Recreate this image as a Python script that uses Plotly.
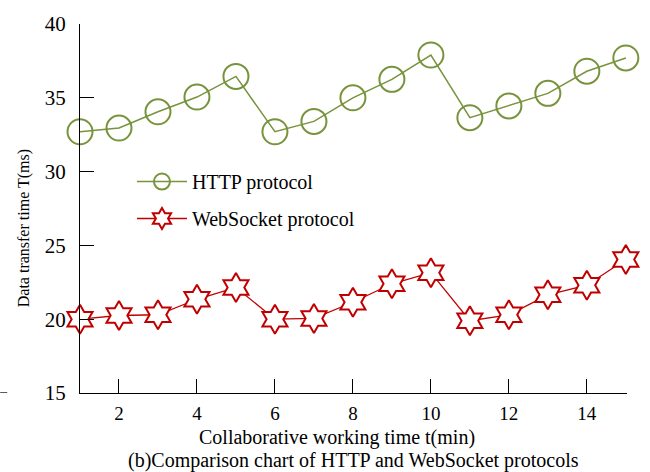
import plotly.graph_objects as go

# Collaborative working time (min)
minutes = list(range(1, 16))

# Data transfer time T (ms) for each protocol
http_ms = [32.7, 32.95, 34.05, 35.05, 36.45, 32.7, 33.4, 35.0, 36.25, 37.9,
           33.65, 34.45, 35.3, 36.8, 37.7]
websocket_ms = [20.0, 20.25, 20.3, 21.35, 22.15, 20.0, 20.05, 21.15, 22.4, 23.15,
                19.9, 20.3, 21.65, 22.3, 24.05]

x_ticks = [2, 4, 6, 8, 10, 12, 14]
y_ticks = [15, 20, 25, 30, 35, 40]

GREEN = "#77933C"
RED = "#C00000"
FONT = "Liberation Serif, Times New Roman, serif"

fig = go.Figure()

fig.add_trace(go.Scatter(
    x=minutes, y=http_ms, mode="lines+markers", name="HTTP protocol",
    legendgroup="http",
    line=dict(color=GREEN, width=1.5),
    marker=dict(symbol="circle-open", size=25, color=GREEN, line=dict(width=2)),
    cliponaxis=False,
))

fig.add_trace(go.Scatter(
    x=minutes, y=websocket_ms, mode="lines+markers", name="WebSocket protocol",
    legendgroup="ws",
    line=dict(color=RED, width=1.3),
    marker=dict(symbol="hexagram", size=22, color="white",
                line=dict(color=RED, width=2)),
    cliponaxis=False,
))

fig.update_layout(
    width=650, height=472,
    margin=dict(l=80, r=23, t=15, b=79),
    plot_bgcolor="white", paper_bgcolor="white",
    font=dict(family=FONT, size=20, color="black"),
    showlegend=True,
    legend=dict(
        x=0.095, y=0.523, xanchor="left", yanchor="middle",
        bgcolor="rgba(0,0,0,0)", font=dict(size=20),
        itemwidth=50, tracegroupgap=8, traceorder="grouped",
    ),
    xaxis=dict(
        range=[1.0, 15.03], tickvals=x_ticks, ticks="inside", ticklen=14,
        tickcolor="black", tickwidth=1.3, showline=True, linecolor="black",
        linewidth=1.3, showgrid=False, zeroline=False, mirror=False,
        ticklabelstandoff=3, tickfont=dict(size=19),
    ),
    yaxis=dict(
        range=[15, 40], tickvals=y_ticks, ticks="inside", ticklen=14,
        tickcolor="black", tickwidth=1.3, showline=True, linecolor="black",
        linewidth=1.3, showgrid=False, zeroline=False, mirror=False,
        ticklabelstandoff=9, tickfont=dict(size=21),
    ),
)

# Axis titles
fig.add_annotation(
    text="Collaborative working time t(min)",
    xref="paper", yref="paper", x=0.47, y=-0.12, xanchor="center",
    yanchor="middle", showarrow=False, font=dict(family=FONT, size=20),
)
fig.add_annotation(
    text="Data transfer time T(ms)", textangle=-90,
    xref="paper", yref="paper", x=-0.102, y=0.447, xanchor="center",
    yanchor="middle", showarrow=False, font=dict(family=FONT, size=16),
)

# Figure caption below the axis title
fig.add_annotation(
    text="(b)Comparison chart of HTTP and WebSocket protocols",
    xref="paper", yref="paper", x=0.5, y=-0.183, xanchor="center",
    yanchor="middle", showarrow=False, font=dict(family=FONT, size=20),
)

# Short stray rule at the left margin, level with the baseline
fig.add_shape(type="line", xref="paper", yref="y", x0=-0.146, x1=-0.133,
              y0=15, y1=15, line=dict(color="black", width=1.3))

fig.write_html("out.html")
